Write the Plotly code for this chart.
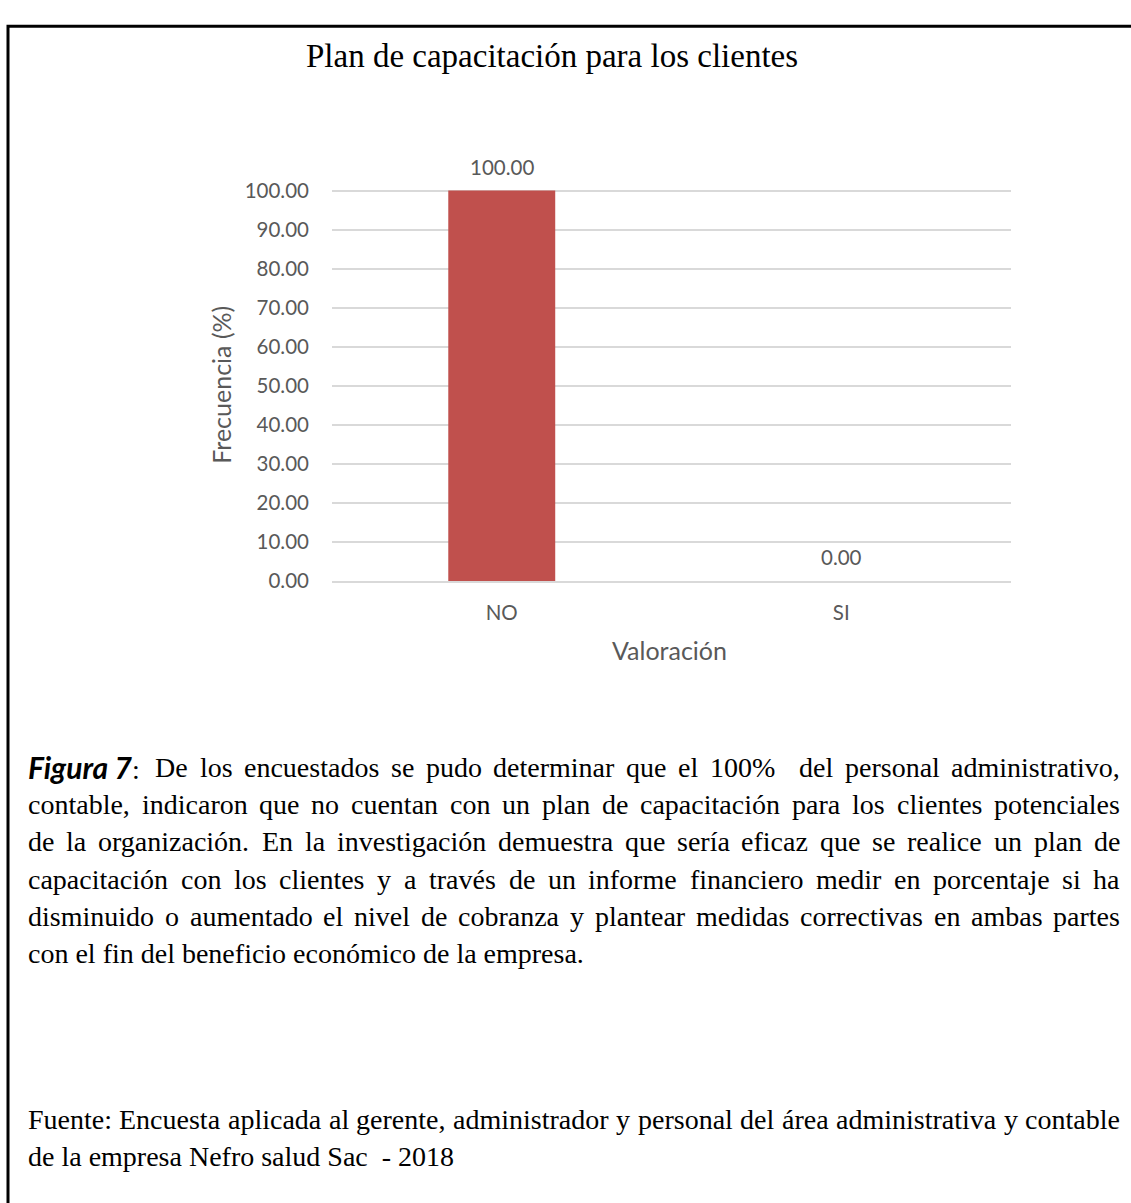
import plotly.graph_objects as go

# ---------------- data ----------------
categories = ["NO", "SI"]
values = [100.00, 0.00]
y_ticks = [0, 10, 20, 30, 40, 50, 60, 70, 80, 90, 100]

title_text = "Plan de capacitación para los clientes"
x_title = "Valoración"
y_title = "Frecuencia (%)"

para_lines = [
    "Figura 7: De los encuestados se pudo determinar que el 100%  del personal administrativo,",
    "contable, indicaron que no cuentan con un plan de capacitación para los clientes potenciales",
    "de la organización. En la investigación demuestra que sería eficaz que se realice un plan de",
    "capacitación con los clientes y a través de un informe financiero medir en porcentaje si ha",
    "disminuido o aumentado el nivel de cobranza y plantear medidas correctivas en ambas partes",
    "con el fin del beneficio económico de la empresa.",
]
fuente_lines = [
    "Fuente: Encuesta aplicada al gerente, administrador y personal del área administrativa y contable",
    "de la empresa Nefro salud Sac  - 2018",
]

# ---------------- layout constants ----------------
W_PX, H_PX = 1131, 1203
PLOT_L, PLOT_R, PLOT_B = 332, 1011, 580
Y_MAX = 100.3
PLOT_T = PLOT_B - (PLOT_B - 182) * Y_MAX / 100.0
TXT_L, TXT_R = 28, 1120
BODY_SIZE = 28
SERIF = "Liberation Serif, Times New Roman, serif"
SANS = "Lato, Carlito, Calibri, sans-serif"
GREY = "#595959"

def px(x):
    return x / W_PX

def py(y):
    return 1 - y / H_PX

# Times New Roman advance widths (1/1000 em)
TW = {
    ' ': 250, 'a': 444, 'b': 500, 'c': 444, 'd': 500, 'e': 444, 'f': 333, 'g': 500,
    'h': 500, 'i': 278, 'j': 278, 'k': 500, 'l': 278, 'm': 778, 'n': 500, 'o': 500,
    'p': 500, 'q': 500, 'r': 333, 's': 389, 't': 278, 'u': 500, 'v': 500, 'w': 722,
    'x': 500, 'y': 500, 'z': 444, 'á': 444, 'é': 444, 'í': 278, 'ó': 500, 'ú': 500,
    'ñ': 500, 'A': 722, 'B': 667, 'C': 667, 'D': 722, 'E': 611, 'F': 556, 'G': 722,
    'H': 722, 'I': 333, 'N': 722, 'O': 722, 'P': 556, 'S': 556, 'T': 611,
    ',': 250, '.': 250, ':': 278, '%': 833, '-': 333,
}

def tw(s, size=BODY_SIZE):
    return sum(TW.get(c, 500) for c in s) / 1000 * size

FIG_WIDTH_PX = 108  # width of bold-italic "Figura 7"
FIG_LABEL = "<b><i><span style='font-family:Lato;font-size:30px'>Figura 7</span></i></b>:"

annotations = []

def word_ann(text, x, y, anchor="left"):
    annotations.append(dict(
        text=text, x=px(x), y=py(y), xref="paper", yref="paper",
        xanchor=anchor, yanchor="middle", showarrow=False,
        font=dict(family=SERIF, size=BODY_SIZE, color="black"),
        borderpad=0, borderwidth=0,
    ))

def justified(line, y, first_special=False):
    tokens = line.split(" ")
    words, spaces_before = [], []
    cnt = 0
    for t in tokens:
        if t == "":
            cnt += 1
            continue
        spaces_before.append(cnt if words else 0)
        words.append(t)
        cnt = 1
    widths = [tw(w) for w in words]
    if first_special:
        words = [FIG_LABEL] + words[2:]
        widths = [FIG_WIDTH_PX + tw(":")] + widths[2:]
        spaces_before = [0] + spaces_before[2:]
    n_spaces = sum(spaces_before)
    gap = (TXT_R - TXT_L - sum(widths)) / n_spaces
    x = TXT_L
    for i, (w, wd) in enumerate(zip(words, widths)):
        x += spaces_before[i] * gap
        if i == len(words) - 1:
            word_ann(w, TXT_R, y, "right")
        else:
            word_ann(w, x, y, "left")
        x += wd

LINE0 = 770
LH = 38
for i, line in enumerate(para_lines):
    y = LINE0 + i * LH
    if i == len(para_lines) - 1:
        word_ann(line, TXT_L, y)
    else:
        justified(line, y, first_special=(i == 0))

FUENTE0 = 1129
justified(fuente_lines[0], FUENTE0)
word_ann(fuente_lines[1].replace("  ", " \u00a0"), TXT_L, FUENTE0 + LH)

# chart title
annotations.append(dict(
    text=title_text, x=px(552), y=py(45), xref="paper", yref="paper",
    xanchor="center", yanchor="middle", showarrow=False,
    font=dict(family=SERIF, size=33, color="black"),
))
# axis titles
annotations.append(dict(
    text=x_title, x=px(669), y=py(650), xref="paper", yref="paper",
    xanchor="center", yanchor="middle", showarrow=False,
    font=dict(family=SANS, size=25, color=GREY),
))
annotations.append(dict(
    text=y_title, x=px(221), y=py(380), xref="paper", yref="paper",
    xanchor="center", yanchor="middle", showarrow=False, textangle=-90,
    font=dict(family=SANS, size=25, color=GREY),
))
# data labels above the bars
for c, v in zip(categories, values):
    annotations.append(dict(
        text=f"{v:.2f}", x=c, y=v, xref="x", yref="y",
        xanchor="center", yanchor="middle", yshift=24, showarrow=False,
        font=dict(family=SANS, size=20.5, color=GREY),
    ))

fig = go.Figure()
fig.add_trace(go.Bar(
    x=categories, y=values,
    marker=dict(color="#C0504D", line=dict(width=0)),
    width=0.315,
    cliponaxis=False,
    hoverinfo="skip",
))

fig.update_layout(
    width=W_PX, height=H_PX,
    margin=dict(l=0, r=0, t=0, b=0),
    paper_bgcolor="white", plot_bgcolor="white",
    showlegend=False,
    annotations=annotations,
    xaxis=dict(
        domain=[px(PLOT_L), px(PLOT_R)],
        showgrid=False, zeroline=False,
        showline=True, linecolor="#D9D9D9", linewidth=1.5,
        ticks="", ticklabelstandoff=13,
        tickfont=dict(family=SANS, size=20.5, color=GREY),
        fixedrange=True,
    ),
    yaxis=dict(
        domain=[py(PLOT_B), py(PLOT_T)],
        range=[0, Y_MAX],
        tickvals=y_ticks,
        ticktext=[f"{v:.2f}" for v in y_ticks],
        showgrid=True, gridcolor="#D9D9D9", gridwidth=1.5,
        zeroline=False, showline=False,
        ticks="", ticklabelstandoff=22,
        tickfont=dict(family=SANS, size=20.5, color=GREY),
        fixedrange=True,
    ),
    shapes=[dict(
        type="rect", xref="paper", yref="paper",
        x0=px(8), x1=1.05, y0=-0.05, y1=py(14.5),
        line=dict(color="black", width=3), fillcolor="rgba(0,0,0,0)",
    )],
)

fig.write_html("out.html")
